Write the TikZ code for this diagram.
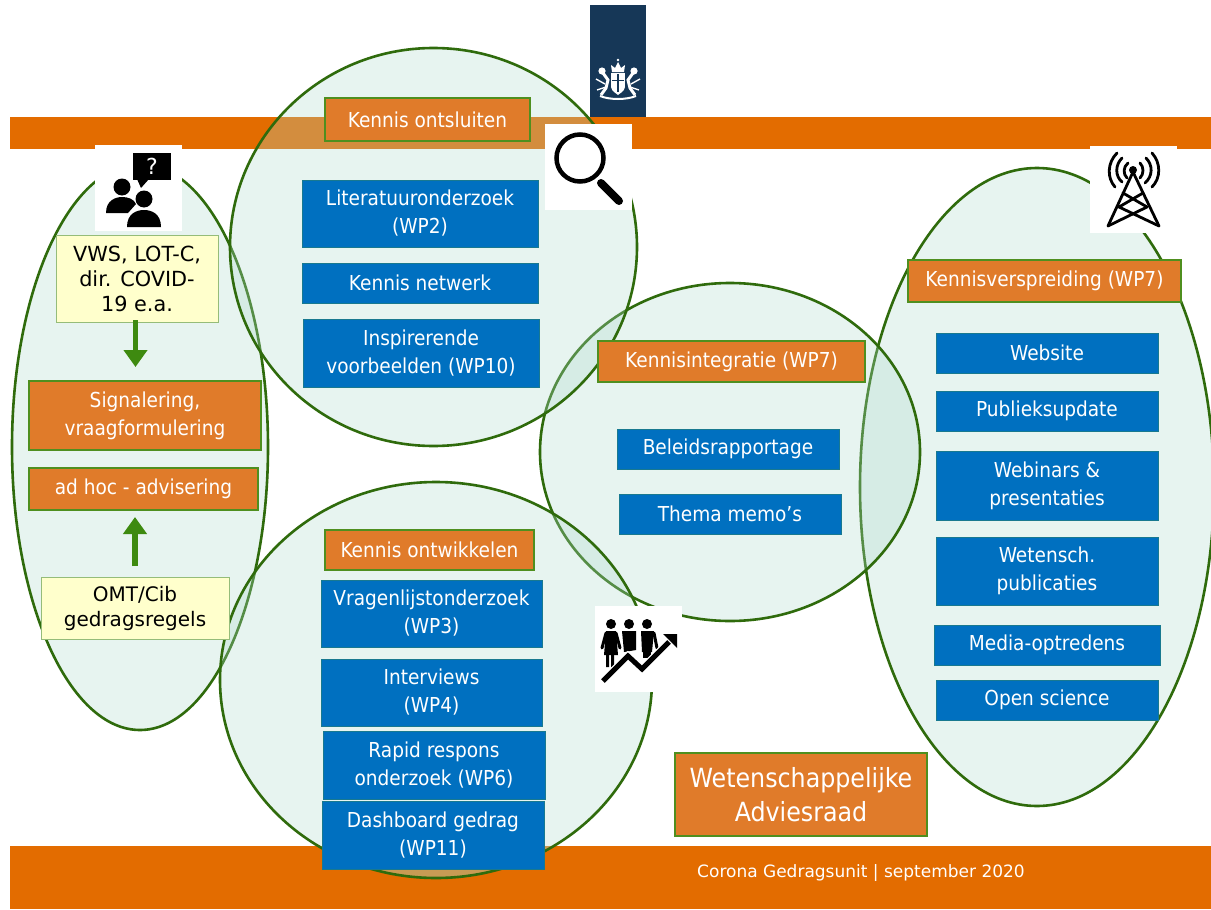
\documentclass[tikz,border=0pt]{standalone}
\usepackage{fontspec}
\setmainfont{DejaVu Sans Condensed}
\newfontfamily\widefont{DejaVu Sans}
\usetikzlibrary{arrows.meta}
\definecolor{barorange}{HTML}{E36C00}
\definecolor{barpatch}{HTML}{D37F20}
\definecolor{boxorange}{HTML}{E07B2A}
\definecolor{boxgreen}{HTML}{4F8F1F}
\definecolor{arrowgreen}{HTML}{3E8A10}
\definecolor{boxblue}{HTML}{0070C0}
\definecolor{ringgreen}{HTML}{2F6B0C}
\definecolor{mint}{HTML}{B0DCCE}
\definecolor{pale}{HTML}{FFFFCC}
\definecolor{navy}{HTML}{163757}
\tikzset{
  blob/.style={draw=ringgreen,line width=2.6pt,fill=mint,fill opacity=.3},
  bluebox/.style={fill=boxblue,draw=boxgreen!30!boxblue,line width=.6pt,text=white,align=center,font=\fontsize{20.6}{28}\selectfont,inner sep=0pt},
  orangebox/.style={fill=boxorange,draw=boxgreen,line width=2.4pt,text=white,align=center,font=\fontsize{20.6}{28}\selectfont,inner sep=0pt},
  bigbox/.style={orangebox,font=\fontsize{26.4}{34}\selectfont},
  yellowbox/.style={fill=pale,draw=boxgreen!60,line width=.6pt,text=black,align=center,font=\widefont\fontsize{20.8}{25}\selectfont,inner sep=0pt},
  iconbg/.style={fill=white,draw=none},
  flow/.style={draw=arrowgreen,line width=5.5pt,-{Triangle[width=23pt,length=17pt]}}
}
\newcommand{\bx}[7]{\node[#1,minimum width={#5pt-#3pt},minimum height={#6pt-#4pt}] (#2) at ({(#3+#5)/2},{(#4+#6)/2}) {#7};}
\begin{document}
\begin{tikzpicture}[x=1pt,y=-1pt]
\useasboundingbox (0,0) rectangle (1211,910);
\fill[white] (0,0) rectangle (1211,910);
% bars
\fill[barorange] (10,117) rectangle (1211,149);
\fill[barorange] (10,846) rectangle (1211,909);
\begin{scope}
\clip (436,680) ellipse [x radius=216,y radius=198];
\fill[barpatch] (10,846) rectangle (1211,909);
\end{scope}
\fill[navy] (590,5) rectangle (646,117);
% crest
\begin{scope}[white]
\fill (618,60) circle (1.4);
\fill (612,72) -- (611,65) -- (615,68) -- (618,62) -- (621,68) -- (625,65) -- (624,72) -- cycle;
\fill (611,73) rectangle (625,87);
\fill (611,87) .. controls (612,92) and (616,93) .. (618,95) .. controls (620,93) and (624,92) .. (625,87) -- cycle;
\fill[navy] (617.4,74) rectangle (618.6,92);
\fill[navy] (612,80) rectangle (624,81.2);
\draw[line width=3pt] (603,73) -- (608,80) -- (606,88) -- (601,95);
\draw[line width=3pt] (633,73) -- (628,80) -- (630,88) -- (635,95);
\fill (602,71) circle (3.6);
\fill (634,71) circle (3.6);
\draw[line width=1.4pt] (596,79) -- (605,84) (597,90) -- (606,87);
\draw[line width=1.4pt] (640,79) -- (631,84) (639,90) -- (630,87);
\draw[line width=2pt] (600,96) .. controls (610,100) and (626,100) .. (636,96);
\end{scope}
% ellipses
\path[blob] (140,447) ellipse [x radius=128,y radius=283];
\path[blob] (1037,487) ellipse [x radius=177,y radius=319];
\path[blob] (730,452) ellipse [x radius=190,y radius=169];
\path[blob] (433.5,247) ellipse [x radius=203.5,y radius=199];
\path[blob] (436,680) ellipse [x radius=216,y radius=198];
% icon backgrounds and icons
\fill[iconbg] (95,145) rectangle (182,231);
\fill[black] (133,153) rectangle (171,180);
\fill[black] (137,179) -- (141,188) -- (149,179) -- cycle;
\node[text=white,font=\widefont\fontsize{22}{22}\selectfont,inner sep=0pt] (qmark) at (152,166) {?};
\fill[black] (122,187) circle (8.5);
\fill[black] (106,213) .. controls (106,200) and (116,197) .. (122,197) .. controls (128,197) and (134,199) .. (136,204) -- (128,213) -- cycle;
\fill[black] (144,199) circle (8.5);
\fill[black] (127,227) .. controls (127,214) and (136,210) .. (144,210) .. controls (152,210) and (161,214) .. (161,227) -- cycle;
\fill[iconbg] (545,124) rectangle (632,210);
\draw[black,line width=4.5pt] (580,158) circle (23.5);
\draw[black,line width=8pt,line cap=round] (601,183) -- (619,201);
\fill[iconbg] (1090,146) rectangle (1177,233);
\begin{scope}[black,line width=2.8pt,line cap=round,line join=round]
\fill (1133,170) circle (4);
\draw (1108,226) -- (1133,172) -- (1159,226);
\draw (1123,193) -- (1147,207) -- (1108,226);
\draw (1143,193) -- (1119,207) -- (1159,226);
\draw (1128,163) .. controls (1123,167) and (1123,174) .. (1127,178);
\draw (1122,158) .. controls (1115,165) and (1115,176) .. (1122,182);
\draw (1117,153) .. controls (1107,163) and (1107,178) .. (1115,187);
\draw (1140,163) .. controls (1144,167) and (1144,174) .. (1140,178);
\draw (1146,158) .. controls (1153,165) and (1153,176) .. (1145,183);
\draw (1152,153) .. controls (1161,163) and (1161,178) .. (1152,187);
\end{scope}
\fill[iconbg] (595,606) rectangle (682,692);
\begin{scope}[black]
\fill (611,624) circle (5) (629,624) circle (5) (647,624) circle (5);
\fill (606,631) -- (616,631) -- (618,655) -- (604,655) -- cycle;
\fill (606,654) rectangle (609,667) (611,654) rectangle (614,667);
\fill (622,631) -- (636,631) -- (636,650) -- (624,652) -- cycle;
\fill (641,631) -- (654,631) -- (652,652) -- (642,652) -- cycle;
\fill (643,652) rectangle (651,658);
\draw[line width=3pt,line cap=round] (606,633) -- (602,648) (616,633) -- (620,648) (654,633) -- (657,648);
\draw[white,line width=7.5pt] (603,681) -- (628,656) -- (642,669) -- (669,642);
\draw[line width=5pt] (603,681) -- (628,656) -- (642,669) -- (669,642);
\fill (663,634) -- (677,634) -- (677,648) -- cycle;
\end{scope}
% boxes
\bx{orangebox}{ont}{325}{98}{530}{141}{Kennis ontsluiten}
\bx{bluebox}{lit}{302}{180}{538}{247}{Literatuuronderzoek\\(WP2)}
\bx{bluebox}{net}{302}{263}{538}{303}{Kennis netwerk}
\bx{bluebox}{ins}{303}{319}{539}{387}{Inspirerende\\voorbeelden (WP10)}
\bx{orangebox}{integ}{598}{341}{865}{382}{Kennisintegratie (WP7)}
\bx{bluebox}{bel}{617}{429}{839}{469}{Beleidsrapportage}
\bx{bluebox}{thema}{619}{494}{841}{534}{Thema memo’s}
\bx{orangebox}{versp}{908}{260}{1181}{302}{Kennisverspreiding (WP7)}
\bx{bluebox}{web}{936}{333}{1158}{373}{Website}
\bx{bluebox}{pub}{936}{391}{1158}{431}{Publieksupdate}
\bx{bluebox}{wbn}{936}{451}{1158}{520}{Webinars \&\\presentaties}
\bx{bluebox}{wet}{936}{537}{1158}{605}{Wetensch.\\publicaties}
\bx{bluebox}{med}{934}{625}{1160}{665}{Media-optredens}
\bx{bluebox}{open}{936}{680}{1158}{720}{Open science}
\bx{orangebox}{ontw}{325}{530}{534}{570}{Kennis ontwikkelen}
\bx{bluebox}{vra}{321}{580}{542}{647}{Vragenlijstonderzoek\\(WP3)}
\bx{bluebox}{int}{321}{659}{542}{726}{Interviews\\(WP4)}
\bx{bluebox}{rap}{323}{731}{545}{799}{Rapid respons\\onderzoek (WP6)}
\bx{bluebox}{dash}{322}{801}{544}{869}{Dashboard gedrag\\(WP11)}
\bx{bigbox}{raad}{675}{753}{927}{836}{Wetenschappelijke\\Adviesraad}
\bx{yellowbox}{vws}{56}{235}{218}{322}{VWS, LOT-C,\\dir. COVID-\\19 e.a.}
\bx{orangebox}{sig}{29}{381}{261}{450}{Signalering,\\vraagformulering}
\bx{orangebox}{adh}{29}{468}{258}{510}{ad hoc - advisering}
\bx{yellowbox,font=\widefont\fontsize{20}{25}\selectfont}{omt}{41}{577}{229}{639}{OMT/Cib\\gedragsregels}
\node[text=white,font=\widefont\fontsize{17}{18}\selectfont,inner sep=0pt] (foot) at (861,873) {Corona Gedragsunit | september 2020};
% arrows
\coordinate (vwsout) at (135.5,320);
\coordinate (sigin) at (135.5,367);
\coordinate (omtout) at (135,566);
\coordinate (adhin) at (135,517);
\draw[flow] (vwsout) -- (sigin);
\draw[flow] (omtout) -- (adhin);
\end{tikzpicture}
\end{document}
